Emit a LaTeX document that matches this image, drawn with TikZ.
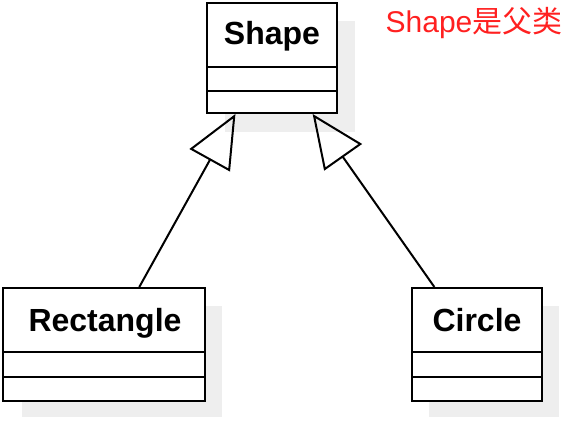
\documentclass[tikz,border=0pt]{standalone}
\usepackage{fontspec}
\setsansfont{Liberation Sans}
\newfontfamily\cjk{Noto Sans CJK SC}
\usetikzlibrary{arrows.meta,calc}
\definecolor{shadowgray}{RGB}{238,238,238}
\definecolor{notered}{RGB}{255,32,32}
\begin{document}
\begin{tikzpicture}[x=1pt,y=-1pt,
  box/.style={draw=black,line width=2pt,fill=white,rectangle,inner sep=0pt},
  title/.style={font=\sffamily\bfseries\fontsize{32}{38}\selectfont,inner sep=0pt,anchor=base},
  divider/.style={draw=black,line width=2pt},
  shadowbox/.style={fill=shadowgray,draw=none},
  inherit/.style={draw=black,line width=2pt,-{Triangle[open,length=53pt,width=46pt]}}]
\useasboundingbox (0,0) rectangle (567,420);
% shadows
\fill[shadowbox] (225,21) rectangle (355,132);
\fill[shadowbox] (22,306) rectangle (222,417);
\fill[shadowbox] (429,306) rectangle (559,417);
% Shape
\node[box,minimum width=130pt,minimum height=110pt] (shape) at (272,58) {};
\node[title] (shapet) at (272,45) {Shape};
\draw[divider] (207,67) -- (337,67);
\draw[divider] (207,91) -- (337,91);
% Rectangle
\node[box,minimum width=202pt,minimum height=113pt] (rect) at (104,344.5) {};
\node[title] (rectt) at (105,331) {Rectangle};
\draw[divider] (3,352) -- (205,352);
\draw[divider] (3,377) -- (205,377);
% Circle
\node[box,minimum width=130pt,minimum height=113pt] (circ) at (477,344.5) {};
\node[title] (circt) at (477,331) {Circle};
\draw[divider] (412,352) -- (542,352);
\draw[divider] (412,377) -- (542,377);
% connectors
\draw[inherit] ($(rect.north west)!0.673!(rect.north east)$) -- ($(shape.south west)!0.223!(shape.south east)$);
\draw[inherit] ($(circ.north west)!0.177!(circ.north east)$) -- ($(shape.south west)!0.808!(shape.south east)$);
% note
\node[text=notered,font=\sffamily\fontsize{30}{36}\selectfont,inner sep=0pt,anchor=base] (note) at (474,33) {Shape{\cjk 是父类}};
\end{tikzpicture}
\end{document}
